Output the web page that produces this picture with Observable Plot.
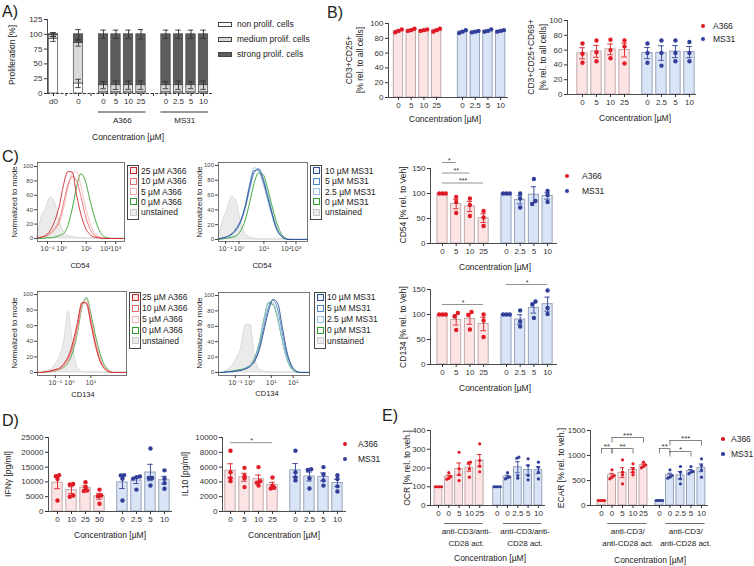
<!DOCTYPE html>
<html><head><meta charset="utf-8">
<script src="https://cdn.jsdelivr.net/npm/d3@7"></script>
<script src="https://cdn.jsdelivr.net/npm/@observablehq/plot@0.6"></script>
<style>
body{margin:0;background:#fff;}
#root{position:relative;width:754px;height:566px;overflow:hidden;font-family:"Liberation Sans",Arial,Helvetica,sans-serif;color:#222;background:#fff;}
.t{position:absolute;white-space:nowrap;line-height:1;}
.p{position:absolute;line-height:0;}
</style></head><body><div id="root"></div><script>
// ================= DATA =================
// Panel A (stacked proliferation)
const A_labels = ["d0","0","0","5","10","25","0","2.5","5","10"];
const A_groupSizes = [1,1,4,4];
const A_groupNames = ["","","A366","MS31"];
const A_non = [92,17,2,2,2,2,2,2,2,2];
const A_medium = [7,68,12,12,12,12,12,12,12,12];
const A_strong = [1,15,86,86,86,86,86,86,86,86];
const A_nonErr = [4,7,0,0,0,0,0,0,0,0];
const A_mediumErr = [3,5,6,7,7,7,6,7,6,7];
const A_strongErr = [3,8,7,7,7,8,7,7,7,7];
const A_series = ["non prolif. cells","medium prolif. cells","strong prolif. cells"];

// concentration tick labels
const conc_A366 = ["0","5","10","25"];
const conc_MS31 = ["0","2.5","5","10"];
const conc_IFN_A366 = ["0","10","25","50"];
const conc_E_A366 = ["0","0","5","10","25"];
const conc_E_MS31 = ["0","0","2.5","5","10"];

// Panel B
const B1_A366 = [[92,90,88],[93,91,90],[92,91,90],[93,91,89]];
const B1_MS31 = [[91,89,87],[90,89,88],[92,90,89],[91,90,89]];
const B2_A366 = [[69,55,43],[73,57,45],[74,60,49],[73,65,42]];
const B2_MS31 = [[69,56,43],[73,56,39],[73,56,45],[71,56,45]];

// Panel C (bar charts)
const C54_A366 = [[100,100,100],[93,83,61],[90,77,55],[65,52,35]];
const C54_MS31 = [[100,100,100],[100,90,72],[129,79,85],[105,97,83]];
const C134_A366 = [[100,100,100],[103,96,69],[105,99,70],[100,88,55]];
const C134_MS31 = [[100,100,100],[108,86,76],[126,120,93],[148,113,101]];

// Panel C histograms (display-axis position 0..100, % of mode)
const H_u = [0,5,10,15,20,25,30,35,40,45,50,55,60,65,70,75,80,85,90,95,100];
const H1_unst = [3,30,42,57,50,25,10,4,2,1,0,0,0,0,0,0,0,0,0,0,0];
const H1_25 = [1,2,5,12,25,45,75,93,92,60,33,15,6,2,1,0,0,0,0,0,0];
const H1_10 = [1,2,4,8,14,25,50,75,86,80,58,32,14,5,2,0,0,0,0,0,0];
const H1_5 = [1,2,3,6,12,22,42,70,90,93,72,45,22,9,3,1,0,0,0,0,0];
const H1_0 = [0,0,1,1,2,4,7,18,42,72,90,80,55,32,14,4,1,0,0,0,0];
const H2_unst = [2,25,40,58,52,25,8,3,1,0,0,0,0,0,0,0,0,0,0,0,0];
const H2_10 = [1,2,4,8,15,26,45,72,93,94,80,58,35,15,5,1,0,0,0,0,0];
const H2_5 = [1,2,4,7,13,24,42,68,90,96,84,62,38,17,6,1,0,0,0,0,0];
const H2_2_5 = [1,2,3,6,12,24,46,76,97,92,76,54,32,14,5,1,0,0,0,0,0];
const H2_0 = [0,1,2,3,5,12,26,50,76,90,88,70,46,24,9,2,0,0,0,0,0];
const H3_unst = [0,1,2,4,10,20,40,78,35,6,1,0,0,0,0,0,0,0,0,0,0];
const H3_25 = [0,0,1,2,4,6,12,22,40,65,90,88,62,35,15,5,1,0,0,0,0];
const H3_10 = [0,0,1,2,3,5,10,19,35,60,88,90,66,38,17,6,2,0,0,0,0];
const H3_5 = [0,0,1,1,2,4,8,16,32,55,85,93,70,42,20,7,2,0,0,0,0];
const H3_0 = [0,0,1,1,2,4,7,14,28,52,84,96,75,48,25,10,3,0,0,0,0];
const H4_unst = [0,1,3,8,18,32,62,62,20,4,1,0,0,0,0,0,0,0,0,0,0];
const H4_10 = [0,0,1,1,2,3,5,8,15,30,55,80,95,90,60,28,10,2,0,0,0];
const H4_5 = [0,0,1,1,2,3,5,9,17,33,60,85,94,82,52,24,8,2,0,0,0];
const H4_2_5 = [0,0,1,1,2,3,6,10,19,38,68,92,90,72,42,18,6,1,0,0,0];
const H4_0 = [0,0,1,2,3,4,6,10,20,40,70,90,88,70,42,18,5,1,0,0,0];
const H_tickLabels = ["10⁻¹","10⁰","10¹","10²","10³"];
const H1_ticks = [11.5,27.6,56,78,90];
const H2_ticks = [8,23,51,76,87];
const H3_ticks = [20,36,60];
const H4_ticks = [18.5,34,58,82];

// Panel D
const IFN_A366 = [[12300,11900,11000,3700],[9300,9100,5400,5000],[9900,8200,7100,6900],[7400,5400,5200,2600]];
const IFN_MS31 = [[12300,12200,11100,3700],[11800,11600,11100,7400],[21300,11300,11300,8800],[13900,11100,9600,7700]];
const IL10_A366 = [[8200,5300,4500,4100],[5900,4800,4500,3300],[6000,4100,3900,3500],[4600,3500,3200,3100]];
const IL10_MS31 = [[8200,5300,4600,4200],[5700,5600,4500,3100],[6000,5000,4200,3500],[4900,4400,3400,2700]];

// Panel E
const OCR_A366 = [[100,100,100,100],[175,155,145,140],[284,196,164,133],[231,228,196,151],[329,240,210,180]];
const OCR_MS31 = [[100,100,100,100],[175,152,148,142],[258,252,160,146],[249,213,160,137],[231,204,178,142]];
const ECAR_A366 = [[100,100,100,100],[713,600,567,533],[913,667,613,433],[833,733,667,613],[867,813,780,753]];
const ECAR_MS31 = [[100,100,100,100],[713,600,567,547],[780,667,533,433],[780,680,667,633],[933,800,713,567]];

// ================= HELPERS =================
const root = document.getElementById("root");
const FONT = '"Liberation Sans", Arial, Helvetica, sans-serif';
const AX = "#3a3a3a";
const RED = "#e01b24", BLUE = "#323f99";
const STY = {
  A366: {dot: RED, fill: "#fce3e4", stroke: "#b7a2a4"},
  MS31: {dot: BLUE, fill: "#d9e5f6", stroke: "#8e9ab3"}
};
const PSTYLE = {fontFamily: FONT, fontSize: "8px", color: "#333", background: "transparent", overflow: "visible"};

function place(node, left, top) {
  const d = document.createElement("div");
  d.className = "p"; d.style.left = left + "px"; d.style.top = top + "px";
  d.appendChild(node); root.appendChild(d);
}
function text(x, y, s, o = {}) {
  const d = document.createElement("div");
  d.className = "t"; d.textContent = s;
  d.style.left = x + "px"; d.style.top = y + "px";
  d.style.fontSize = (o.size || 8.5) + "px";
  if (o.weight) d.style.fontWeight = o.weight;
  d.style.color = o.color || "#222";
  const ax = o.anchor === "start" ? "0" : o.anchor === "end" ? "-100%" : "-50%";
  d.style.transform = `translate(${ax},-50%)` + (o.rotate ? ` rotate(${o.rotate}deg)` : "");
  root.appendChild(d);
}
function box(x, y, w, h, stroke, fill, bw = 1) {
  const d = document.createElement("div");
  Object.assign(d.style, {position: "absolute", left: x + "px", top: y + "px", width: w + "px", height: h + "px",
    border: `${bw}px solid ${stroke}`, background: fill, boxSizing: "border-box"});
  root.appendChild(d);
}
function circle(x, y, r, fill) {
  const d = document.createElement("div");
  Object.assign(d.style, {position: "absolute", left: (x - r) + "px", top: (y - r) + "px", width: 2 * r + "px", height: 2 * r + "px", borderRadius: "50%", background: fill});
  root.appendChild(d);
}
function dotLegend(x, y, step, labX, r) {
  circle(x, y, r, RED); text(labX, y, "A366", {anchor: "start", size: 8.5});
  circle(x, y + step, r, BLUE); text(labX, y + step, "MS31", {anchor: "start", size: 8.5});
}
function meanSem(a) { return [d3.mean(a), d3.deviation(a) / Math.sqrt(a.length)]; }
function spread(vals, th, step) {
  const idx = vals.map((v, i) => i).sort((a, b) => vals[a] - vals[b]);
  const clusters = []; let cur = [idx[0]];
  for (let k = 1; k < idx.length; k++) {
    if (vals[idx[k]] - vals[cur[cur.length - 1]] < th) cur.push(idx[k]); else { clusters.push(cur); cur = [idx[k]]; }
  }
  clusters.push(cur);
  const off = new Array(vals.length).fill(0);
  for (const c of clusters) c.forEach((j, q) => off[j] = (q - (c.length - 1) / 2) * step);
  return off;
}

function barChart(c) {
  const mL = 46, mR = 6, mT = c.mT ?? 18, mB = c.mB ?? 20;
  const L = c.axisX - mL, T = c.yTopPx - mT;
  const W = c.endX - L + mR, H = c.y0Px - T + mB;
  const xd = [(c.axisX - c.firstPx) / c.stepPx, (c.endX - c.firstPx) / c.stepPx];
  const bw = c.bw ?? 0.74, cap = c.cap ?? 0.2, r = c.r ?? 2.2;
  const span = c.yDomain[1] - c.yDomain[0];
  const marks = [];
  const tickSlots = [], tickLabel = new Map();
  for (const g of c.groups) {
    const st = STY[g.key];
    const items = g.data.map((dots, i) => { const [m, s] = meanSem(dots); return {slot: g.start + i, mean: m, sem: s, dots, label: g.labels[i]}; });
    items.forEach(d => { tickSlots.push(d.slot); tickLabel.set(d.slot, d.label); });
    const pts = items.flatMap(d => { const off = spread(d.dots, span * (c.th ?? 0.05), c.dstep ?? 0.24); return d.dots.map((v, j) => ({x: d.slot + off[j], y: v})); });
    marks.push(
      Plot.rect(items, {x1: d => d.slot - bw / 2, x2: d => d.slot + bw / 2, y1: 0, y2: "mean", fill: st.fill, stroke: st.stroke, strokeWidth: 0.9}),
      Plot.ruleX(items, {x: "slot", y1: d => d.mean - d.sem, y2: d => d.mean + d.sem, stroke: st.dot, strokeWidth: 0.9}),
      Plot.ruleY(items, {y: d => d.mean + d.sem, x1: d => d.slot - cap, x2: d => d.slot + cap, stroke: st.dot, strokeWidth: 0.9}),
      Plot.ruleY(items, {y: d => d.mean - d.sem, x1: d => d.slot - cap, x2: d => d.slot + cap, stroke: st.dot, strokeWidth: 0.9}),
      Plot.dot(pts, {x: "x", y: "y", r, fill: st.dot, stroke: "none"})
    );
  }
  marks.push(
    Plot.ruleY([c.yDomain[0]], {stroke: AX, strokeWidth: 0.9}),
    Plot.ruleX([xd[0]], {stroke: AX, strokeWidth: 0.9}),
    Plot.axisY({ticks: c.yTicks, tickSize: 3, tickPadding: 2, fontSize: 8, color: "#333", label: null, tickFormat: d => String(d)}),
    Plot.axisX({ticks: tickSlots, tickSize: 3, tickPadding: 2, fontSize: 8, color: "#333", label: null, tickFormat: d => tickLabel.get(d) ?? ""})
  );
  if (c.extra) marks.push(...c.extra);
  const svg = Plot.plot({width: W, height: H, marginLeft: mL, marginRight: mR, marginTop: mT, marginBottom: mB,
    x: {domain: xd}, y: {domain: c.yDomain}, style: PSTYLE, marks});
  place(svg, L, T);
}

function sigLines(list) {
  return [
    Plot.ruleY(list, {y: "y", x1: "x1", x2: "x2", stroke: "#666", strokeWidth: 0.7}),
    Plot.text(list, {x: d => (d.x1 + d.x2) / 2, y: "y", text: "label", dy: -2, fontSize: 7, fill: "#333"})
  ];
}
function brackets(list, leg) {
  return [
    Plot.ruleY(list, {y: "y", x1: "x1", x2: "x2", stroke: "#666", strokeWidth: 0.8}),
    Plot.ruleX(list, {x: "x1", y1: d => d.y - leg, y2: "y", stroke: "#666", strokeWidth: 0.8}),
    Plot.ruleX(list, {x: "x2", y1: d => d.y - leg, y2: "y", stroke: "#666", strokeWidth: 0.8}),
    Plot.text(list, {x: d => (d.x1 + d.x2) / 2, y: "y", text: "label", dy: -2, fontSize: 8, fill: "#333"})
  ];
}

function histo(c) {
  const mL = 24, mR = 2, mT = 4, mB = 16;
  const L = c.fx0 - mL, T = c.fy0 - mT, W = c.fx1 - L + mR, H = c.fy1 - T + mB;
  const k = (c.y0 - c.y100) / 100;
  const yd = [-(c.fy1 - c.y0) / k, 100 + (c.y100 - c.fy0) / k];
  const rows = a => H_u.map((u, i) => ({u, v: a[i]}));
  const tl = new Map(c.ticks.map((t, i) => [t, H_tickLabels[i]]));
  const marks = [
    Plot.areaY(rows(c.unst), {x: "u", y: "v", fill: "#ebebeb", stroke: "#cfcfcf", strokeWidth: 0.7, curve: "monotone-x"}),
    ...c.curves.map(cv => Plot.lineY(rows(cv.data), {x: "u", y: "v", stroke: cv.color, strokeWidth: 0.9, curve: "monotone-x"})),
    Plot.frame({stroke: "#555", strokeWidth: 0.8}),
    Plot.axisY({ticks: [0, 20, 40, 60, 80, 100], tickSize: 3, tickPadding: 1.5, fontSize: 6, color: "#444", label: null}),
    Plot.axisX({ticks: c.ticks, tickSize: 3, tickPadding: 2, fontSize: 6.5, fontFamily: "DejaVu Sans", color: "#444", label: null, tickFormat: d => tl.get(d)})
  ];
  const svg = Plot.plot({width: W, height: H, marginLeft: mL, marginRight: mR, marginTop: mT, marginBottom: mB,
    x: {domain: [0, 100]}, y: {domain: yd}, style: PSTYLE, marks});
  place(svg, L, T);
}
function histLegend(bx, by, rows, y0, step, labX) {
  box(bx, by, 12, rows.length * step + 2.5, "#444", "#fff", 1);
  rows.forEach((r, i) => {
    const y = y0 + i * step;
    box(bx + 2.5, y - 3.5, 7, 7, r.stroke, r.fill, 1);
    text(labX, y, r.label, {anchor: "start", size: 8.5});
  });
}

// ================= PANEL A =================
(function () {
  const axisX = 47, endX = 213, firstPx = 53, stepPx = 12.5, yTopPx = 18.5, y0Px = 92.5;
  const mL = 40, mR = 4, mT = 10, mB = 34;
  const L = axisX - mL, T = yTopPx - mT, W = endX - L + mR, H = y0Px - T + mB;
  const xd = [(axisX - firstPx) / stepPx, (endX - firstPx) / stepPx];
  let s = 0; const slots = [], gapTicks = [], groups = [];
  A_groupSizes.forEach((n, gi) => {
    if (gi > 0) { gapTicks.push(s); s += 1; }
    const st = s;
    for (let i = 0; i < n; i++) { slots.push(s); s++; }
    if (A_groupNames[gi]) groups.push({name: A_groupNames[gi], x1: st - 0.4, x2: s - 1 + 0.4, xm: (st + s - 1) / 2});
  });
  const rows = A_labels.map((lab, i) => ({slot: slots[i], lab, n: A_non[i], m: A_medium[i], s: A_strong[i],
    en: A_nonErr[i], em: A_mediumErr[i], es: A_strongErr[i]}));
  const errs = rows.flatMap(d => [
    {slot: d.slot, y: d.n, e: d.en}, {slot: d.slot, y: d.n + d.m, e: d.em}, {slot: d.slot, y: d.n + d.m + d.s, e: d.es}
  ]).filter(d => d.e > 0);
  const bw = 0.75, cap = 0.22;
  const tickLabel = new Map(rows.map(d => [d.slot, d.lab]));
  const marks = [
    Plot.rect(rows, {x1: d => d.slot - bw / 2, x2: d => d.slot + bw / 2, y1: 0, y2: "n", fill: "#fff", stroke: "#444", strokeWidth: 0.7}),
    Plot.rect(rows, {x1: d => d.slot - bw / 2, x2: d => d.slot + bw / 2, y1: "n", y2: d => d.n + d.m, fill: "#d9d9d9", stroke: "#444", strokeWidth: 0.7}),
    Plot.rect(rows, {x1: d => d.slot - bw / 2, x2: d => d.slot + bw / 2, y1: d => d.n + d.m, y2: d => d.n + d.m + d.s, fill: "#5d5d5d", stroke: "#444", strokeWidth: 0.7}),
    Plot.ruleX(errs, {x: "slot", y1: d => d.y - d.e, y2: d => d.y + d.e, stroke: "#333", strokeWidth: 0.9}),
    Plot.ruleY(errs, {y: d => d.y + d.e, x1: d => d.slot - cap, x2: d => d.slot + cap, stroke: "#333", strokeWidth: 0.9}),
    Plot.ruleY(errs, {y: d => d.y - d.e, x1: d => d.slot - cap, x2: d => d.slot + cap, stroke: "#333", strokeWidth: 0.9}),
    Plot.ruleY([0], {stroke: AX, strokeWidth: 1, strokeDasharray: "3 1.5"}),
    Plot.ruleX([xd[0]], {stroke: AX, strokeWidth: 0.9}),
    Plot.axisY({ticks: [0, 25, 50, 75, 100, 125], tickSize: 3, tickPadding: 2, fontSize: 8, color: "#333", label: null}),
    Plot.axisX({ticks: [...slots, ...gapTicks], tickSize: 3, tickPadding: 2, fontSize: 8, color: "#333", label: null, tickFormat: d => tickLabel.get(d) ?? ""}),
    Plot.ruleY(groups, {y: 0, x1: "x1", x2: "x2", dy: 18.5, stroke: "#777", strokeWidth: 1.3}),
    Plot.text(groups, {x: "xm", y: 0, text: "name", dy: 26.5, fontSize: 8, fill: "#222"})
  ];
  const svg = Plot.plot({width: W, height: H, marginLeft: mL, marginRight: mR, marginTop: mT, marginBottom: mB,
    x: {domain: xd}, y: {domain: [0, 125]}, style: PSTYLE, marks});
  place(svg, L, T);
  text(2, 12, "A)", {anchor: "start", size: 16});
  text(12, 55, "Proliferation [%]", {rotate: -90, size: 8.5});
  text(128, 137, "Concentration [µM]", {size: 8.5});
  const fills = ["#fff", "#d9d9d9", "#5d5d5d"];
  A_series.forEach((nm, i) => {
    box(218, 24 + i * 15 - 2.5, 14, 5.5, "#444", fills[i], 0.8);
    text(237, 24 + i * 15, nm, {anchor: "start", size: 8.5});
  });
})();

// ================= PANEL B =================
barChart({axisX: 388, endX: 508, firstPx: 398, stepPx: 12.7, yTopPx: 23, y0Px: 97, yDomain: [0, 100], yTicks: [0, 20, 40, 60, 80, 100],
  dstep: 0.26, groups: [{key: "A366", start: 0, labels: conc_A366, data: B1_A366}, {key: "MS31", start: 5.04, labels: conc_MS31, data: B1_MS31}]});
barChart({axisX: 567, endX: 696, firstPx: 582, stepPx: 14, yTopPx: 20, y0Px: 94, yDomain: [0, 100], yTicks: [0, 20, 40, 60, 80, 100],
  groups: [{key: "A366", start: 0, labels: conc_A366, data: B2_A366}, {key: "MS31", start: 4.64, labels: conc_MS31, data: B2_MS31}]});
text(327, 13, "B)", {anchor: "start", size: 16});
text(349, 60, "CD3+CD25+", {rotate: -90, size: 8.5});
text(360, 60, "[% rel. to all cells]", {rotate: -90, size: 8.5});
text(445, 119, "Concentration [µM]", {size: 8.5});
text(531, 57, "CD3+CD25+CD69+", {rotate: -90, size: 8.5});
text(543, 57, "[% rel. to all cells]", {rotate: -90, size: 8.5});
text(635, 118, "Concentration [µM]", {size: 8.5});
dotLegend(703, 26, 13, 713, 2.2);

// ================= PANEL C: histograms =================
const legA = [
  {label: "25 µM A366", stroke: "#cc2a2a", fill: "#fbeaea"}, {label: "10 µM A366", stroke: "#e86a6a", fill: "#fff"},
  {label: "5 µM A366", stroke: "#f3b4b4", fill: "#fff"}, {label: "0 µM A366", stroke: "#2f9e2f", fill: "#fff"},
  {label: "unstained", stroke: "#c9c9c9", fill: "#ececec"}];
const legM = [
  {label: "10 µM MS31", stroke: "#2b508e", fill: "#eef3fa"}, {label: "5 µM MS31", stroke: "#4a84c6", fill: "#fff"},
  {label: "2.5 µM MS31", stroke: "#9cc3ea", fill: "#fff"}, {label: "0 µM MS31", stroke: "#2f9e2f", fill: "#fff"},
  {label: "unstained", stroke: "#c9c9c9", fill: "#ececec"}];
histo({fx0: 37, fx1: 124, fy0: 162, fy1: 241, y0: 238, y100: 166, ticks: H1_ticks, unst: H1_unst,
  curves: [{data: H1_0, color: "#2f9e2f"}, {data: H1_5, color: "#f3b4b4"}, {data: H1_10, color: "#e86a6a"}, {data: H1_25, color: "#cc2a2a"}]});
histo({fx0: 218, fx1: 307, fy0: 162, fy1: 241, y0: 239, y100: 165, ticks: H2_ticks, unst: H2_unst,
  curves: [{data: H2_0, color: "#2f9e2f"}, {data: H2_2_5, color: "#9cc3ea"}, {data: H2_5, color: "#4a84c6"}, {data: H2_10, color: "#2b508e"}]});
histo({fx0: 37, fx1: 126, fy0: 291, fy1: 375, y0: 372, y100: 294, ticks: H3_ticks, unst: H3_unst,
  curves: [{data: H3_0, color: "#2f9e2f"}, {data: H3_5, color: "#f3b4b4"}, {data: H3_10, color: "#e86a6a"}, {data: H3_25, color: "#cc2a2a"}]});
histo({fx0: 218, fx1: 309, fy0: 292, fy1: 375, y0: 372, y100: 295, ticks: H4_ticks, unst: H4_unst,
  curves: [{data: H4_0, color: "#2f9e2f"}, {data: H4_2_5, color: "#9cc3ea"}, {data: H4_5, color: "#4a84c6"}, {data: H4_10, color: "#2b508e"}]});
histLegend(127, 165, legA, 170.7, 10.4, 141);
histLegend(310, 165, legM, 170.7, 10.4, 325);
histLegend(129, 292, legA, 297.3, 10.9, 142);
histLegend(314, 292, legM, 297.3, 10.9, 327);
text(2, 157, "C)", {anchor: "start", size: 16});
text(15, 202, "Normalized to mode", {rotate: -90, size: 8});
text(200, 202, "Normalized to mode", {rotate: -90, size: 8});
text(15, 333, "Normalized to mode", {rotate: -90, size: 8});
text(200, 333, "Normalized to mode", {rotate: -90, size: 8});
text(80, 266, "CD54", {size: 7.5});
text(262, 266, "CD54", {size: 7.5});
text(83, 395, "CD134", {size: 7.5});
text(267, 394, "CD134", {size: 7.5});

// ================= PANEL C: bar charts =================
barChart({axisX: 430, endX: 557, firstPx: 442, stepPx: 13.7, yTopPx: 168, y0Px: 243, yDomain: [0, 150], yTicks: [0, 50, 100, 150],
  groups: [{key: "A366", start: 0, labels: conc_A366, data: C54_A366}, {key: "MS31", start: 4.67, labels: conc_MS31, data: C54_MS31}],
  extra: sigLines([{x1: 0, x2: 1, y: 162, label: "*"}, {x1: 0, x2: 2, y: 141, label: "**"}, {x1: 0, x2: 3, y: 121, label: "***"}])});
barChart({axisX: 430, endX: 557, firstPx: 442, stepPx: 13.7, yTopPx: 289, y0Px: 364, yDomain: [0, 150], yTicks: [0, 50, 100, 150],
  groups: [{key: "A366", start: 0, labels: conc_A366, data: C134_A366}, {key: "MS31", start: 4.67, labels: conc_MS31, data: C134_MS31}],
  extra: sigLines([{x1: 0, x2: 3, y: 120, label: "*"}, {x1: 4.67, x2: 7.67, y: 160, label: "*"}])});
text(403, 205, "CD54 [% rel. to Veh]", {rotate: -90, size: 8.5});
text(403, 327, "CD134 [% rel. to Veh]", {rotate: -90, size: 8.5});
text(495, 267, "Concentration [µM]", {size: 8.5});
text(495, 388, "Concentration [µM]", {size: 8.5});
dotLegend(567, 176, 15, 582, 2.2);

// ================= PANEL D =================
barChart({axisX: 48, endX: 172, firstPx: 57, stepPx: 14, yTopPx: 437, y0Px: 511, yDomain: [0, 25000], yTicks: [0, 5000, 10000, 15000, 20000, 25000],
  th: 0.03, groups: [{key: "A366", start: 0, labels: conc_IFN_A366, data: IFN_A366}, {key: "MS31", start: 4.64, labels: conc_MS31, data: IFN_MS31}]});
barChart({axisX: 222, endX: 346, firstPx: 230, stepPx: 14, yTopPx: 437, y0Px: 511, yDomain: [0, 10000], yTicks: [0, 2000, 4000, 6000, 8000, 10000],
  th: 0.03, groups: [{key: "A366", start: 0, labels: conc_A366, data: IL10_A366}, {key: "MS31", start: 4.64, labels: conc_MS31, data: IL10_MS31}],
  extra: sigLines([{x1: 0, x2: 3, y: 9300, label: "*"}])});
text(2, 421, "D)", {anchor: "start", size: 16});
text(8, 474, "IFNγ [pg/ml]", {rotate: -90, size: 8.5});
text(185, 474, "IL10 [pg/ml]", {rotate: -90, size: 8.5});
text(110, 535, "Concentration [µM]", {size: 8.5});
text(284, 535, "Concentration [µM]", {size: 8.5});
dotLegend(345, 444, 15, 358, 2.2);

// ================= PANEL E =================
function actLabels(starts, c0, l1, l2) {
  const g = starts.map(s => ({x1: s + 0.6, x2: s + 4.35, xm: s + c0}));
  return [
    Plot.ruleY(g, {y: 0, x1: "x1", x2: "x2", dy: 18, stroke: "#444", strokeWidth: 0.8}),
    Plot.text(g, {x: "xm", y: 0, text: () => l1, dy: 26, fontSize: 8, fill: "#222"}),
    Plot.text(g, {x: "xm", y: 0, text: () => l2, dy: 38, fontSize: 8, fill: "#222"})
  ];
}
barChart({axisX: 430, endX: 545, firstPx: 438, stepPx: 10.3, yTopPx: 430, y0Px: 505, yDomain: [0, 400], yTicks: [0, 100, 200, 300, 400],
  mB: 46, bw: 0.76, cap: 0.22, r: 1.6, th: 0.03, dstep: 0.2,
  groups: [{key: "A366", start: 0, labels: conc_E_A366, data: OCR_A366}, {key: "MS31", start: 5.7, labels: conc_E_MS31, data: OCR_MS31}],
  extra: actLabels([0, 5.7], 2.7, "anti-CD3/anti-", "CD28 act.")});
barChart({axisX: 590, endX: 708, firstPx: 601, stepPx: 10.5, yTopPx: 430, y0Px: 505, yDomain: [0, 1500], yTicks: [0, 500, 1000, 1500],
  mB: 46, bw: 0.76, cap: 0.22, r: 1.6, th: 0.03, dstep: 0.2,
  groups: [{key: "A366", start: 0, labels: conc_E_A366, data: ECAR_A366}, {key: "MS31", start: 5.52, labels: conc_E_MS31, data: ECAR_MS31}],
  extra: [...actLabels([0, 5.52], 2.5, "anti-CD3/", "anti-CD28 act."),
    ...brackets([{x1: 0, x2: 1, y: 1140, label: "**"}, {x1: 1, x2: 4, y: 1360, label: "***"}, {x1: 1, x2: 3, y: 1140, label: "**"},
      {x1: 5.52, x2: 6.52, y: 1140, label: "**"}, {x1: 6.52, x2: 9.52, y: 1300, label: "***"}, {x1: 6.52, x2: 8.52, y: 1080, label: "*"}], 110)]});
text(382, 416, "E)", {anchor: "start", size: 16});
text(407, 468, "OCR [% rel. to veh.]", {rotate: -90, size: 8.5});
text(561, 468, "ECAR [% rel. to veh.]", {rotate: -90, size: 8.5});
text(490, 558, "Concentration [µM]", {size: 8.5});
text(650, 560, "Concentration [µM]", {size: 8.5});
dotLegend(723, 439, 15, 731, 1.8);
</script></body></html>
